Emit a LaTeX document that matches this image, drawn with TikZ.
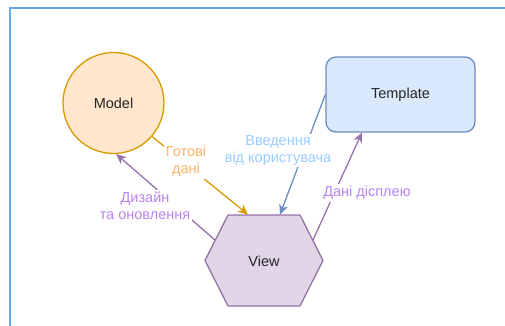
\documentclass[tikz,border=0pt]{standalone}
\usepackage{fontspec}
\setmainfont{Liberation Sans}
\usetikzlibrary{arrows.meta}

\definecolor{frameblue}{HTML}{6AA6E0}
\definecolor{modelfill}{HTML}{FFE6CC}
\definecolor{modeldraw}{HTML}{D79B00}
\definecolor{tplfill}{HTML}{DAE8FC}
\definecolor{tpldraw}{HTML}{6C8EBF}
\definecolor{viewfill}{HTML}{E1D5E7}
\definecolor{viewdraw}{HTML}{9673A6}
\definecolor{lblorange}{HTML}{FFB366}
\definecolor{lblblue}{HTML}{99CCFF}
\definecolor{lblpurple}{HTML}{B983F5}

\tikzset{
  txt/.style={font=\fontsize{14.5}{17}\selectfont, text=black!85},
  shapeline/.style={line width=1.3pt},
  conn/.style={line width=1.3pt, -{Stealth[length=10pt,width=9pt,inset=3pt]}},
  lbl/.style={fill=white, inner sep=2pt, align=center, font=\fontsize{14.5}{17}\selectfont},
}

\begin{document}
\begin{tikzpicture}[x=1pt,y=-1pt]
\useasboundingbox (0,0) rectangle (505,325);

% outer frame, running off the right and bottom edges
\begin{scope}
  \clip (0,0) rectangle (505,325);
  \draw[frameblue, line width=2.5pt] (10,340) -- (10,8) -- (520,8);
\end{scope}

% model circle
\node[circle, minimum size=101pt, fill=modelfill, draw=modeldraw, shapeline, txt]
  (Model) at (113.5,103) {Model};

% template box
\node[rectangle, rounded corners=10pt, minimum width=149pt, minimum height=75pt,
      fill=tplfill, draw=tpldraw, shapeline, txt]
  (Template) at (400.5,94.5) {Template};

% view hexagon
\draw[fill=viewfill, draw=viewdraw, shapeline]
  (228,215) -- (300,215) -- (323,260.5) -- (300,306) -- (228,306) -- (205,260.5) -- cycle;
\node[txt] (View) at (264,261) {View};

% connection points on the hexagon and the box
\coordinate (vGold) at (248,214.5);
\coordinate (vBlue) at (280,214.5);
\coordinate (vLeft) at (215,240);
\coordinate (vRight) at (313,240);
\coordinate (tBottom) at (362,132.5);

% connectors with their labels
\draw[conn, modeldraw] (Model.-41) -- (vGold)
  node[lbl, text=lblorange] (lGold) at (186,161.5) {Готові\\дані};
\draw[conn, viewdraw] (vLeft) -- (Model.-87)
  node[lbl, text=lblpurple] (lLeft) at (145,205.5) {Дизайн\\та оновлення};
\draw[conn, tpldraw] (Template.west) -- (vBlue)
  node[lbl, text=lblblue] (lBlue) at (278,150.5) {Введення\\від користувача};
\draw[conn, viewdraw] (vRight) -- (tBottom)
  node[lbl, text=lblpurple] (lRight) at (367,193) {Дані дісплею};
\end{tikzpicture}
\end{document}
